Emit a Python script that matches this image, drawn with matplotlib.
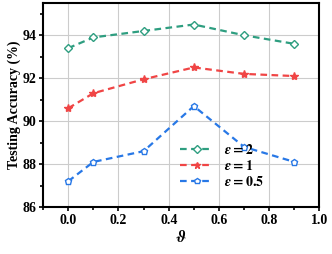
import matplotlib
matplotlib.use('Agg')
import matplotlib.pyplot as plt
from matplotlib.ticker import MultipleLocator

plt.rcParams['font.family'] = 'Liberation Serif'
plt.rcParams['font.weight'] = 'bold'
plt.rcParams['mathtext.fontset'] = 'custom'
plt.rcParams['mathtext.rm'] = 'STIXGeneral:bold'
plt.rcParams['mathtext.it'] = 'STIXGeneral:italic:bold'

theta = [0.0, 0.1, 0.3, 0.5, 0.7, 0.9]
acc_eps2 = [93.4, 93.9, 94.2, 94.5, 94.0, 93.6]
acc_eps1 = [90.6, 91.3, 91.95, 92.5, 92.2, 92.1]
acc_eps05 = [87.2, 88.1, 88.6, 90.7, 88.8, 88.1]

fig, ax = plt.subplots(figsize=(3.32, 2.54), dpi=100)
fig.subplots_adjust(left=0.13, right=0.962, top=0.988, bottom=0.185)

dash = (3, 2)
ax.plot(theta, acc_eps2, '--', dashes=dash, color='#2e9e80', lw=1.6, marker='D',
        ms=4.5, mfc='white', mew=1, label=r'$\epsilon = 2$')
ax.plot(theta, acc_eps1, '--', dashes=dash, color='#f04545', lw=1.6, marker='*',
        ms=6, label=r'$\epsilon = 1$')
ax.plot(theta, acc_eps05, '--', dashes=dash, color='#2878e6', lw=1.6, marker='p',
        ms=5, mfc='white', mew=1, label=r'$\epsilon = 0.5$')

ax.set_xlim(-0.1, 1.0)
ax.set_ylim(86, 95.5)
ax.xaxis.set_major_locator(MultipleLocator(0.2))
ax.xaxis.set_minor_locator(MultipleLocator(0.1))
ax.yaxis.set_major_locator(MultipleLocator(2))
ax.yaxis.set_minor_locator(MultipleLocator(1))
ax.tick_params(which='both', direction='out', width=1.2, labelsize=10, pad=2)
ax.tick_params(which='major', length=3)
ax.tick_params(which='minor', length=2)
ax.grid(True, which='major', color='#cccccc', lw=0.8)
for s in ax.spines.values():
    s.set_linewidth(1.5)

ax.set_ylabel('Testing Accuracy (%)', fontsize=10, fontweight='bold', labelpad=1)
ax.set_xlabel(r'$\vartheta$', fontsize=12, labelpad=2)
ax.legend(loc='lower left', bbox_to_anchor=(0.46, 0.04), frameon=False,
          fontsize=10, handlelength=2.4, handletextpad=0.8, borderpad=0.2,
          labelspacing=0.15, markerscale=0.8)

fig.savefig('out.png')
